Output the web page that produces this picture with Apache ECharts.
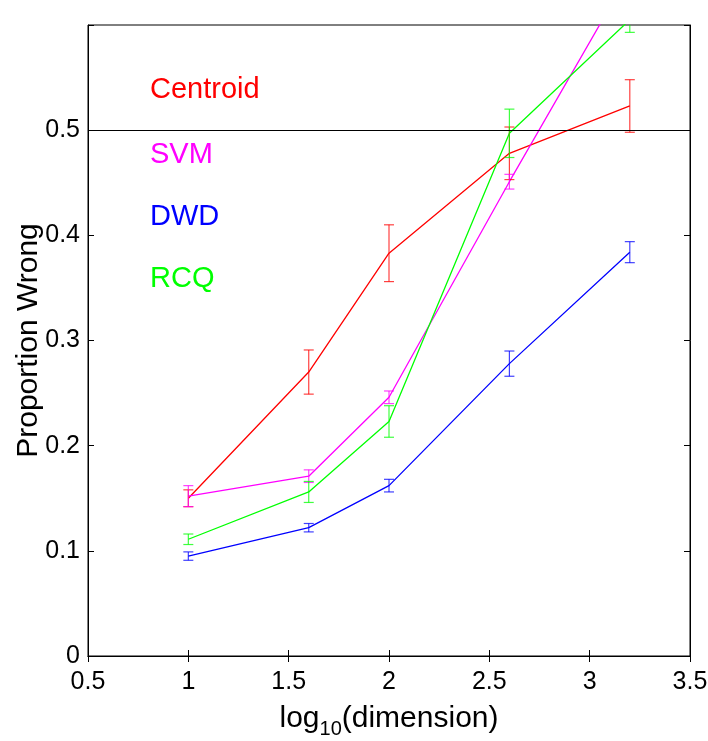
<!DOCTYPE html>
<html>
<head>
<meta charset="utf-8">
<script src="https://cdn.jsdelivr.net/npm/echarts@6/dist/echarts.min.js"></script>
<style>
  html, body { margin: 0; padding: 0; background: #fff; }
  #chart { width: 708px; height: 741px; }
</style>
</head>
<body>
<div id="chart"></div>
<script>
// log10(dimension)
const dims = [1, 1.6, 2, 2.6, 3.2]

// proportion wrong, with error bar half-widths
const centroid = [0.150, 0.270, 0.383, 0.478, 0.523]
const centroidErr = [0.008, 0.021, 0.027, 0.025, 0.025]
const svm = [0.152, 0.171, 0.246, 0.451, 0.650]
const svmErr = [0.010, 0.006, 0.006, 0.007, 0.010]
const dwd = [0.095, 0.122, 0.162, 0.278, 0.384]
const dwdErr = [0.004, 0.004, 0.006, 0.012, 0.010]
const rcq = [0.111, 0.156, 0.223, 0.497, 0.605]
const rcqErr = [0.005, 0.010, 0.015, 0.023, 0.012]

const methods = [
  { name: 'Centroid', color: '#ff0000', vals: centroid, err: centroidErr },
  { name: 'SVM', color: '#ff00ff', vals: svm, err: svmErr },
  { name: 'DWD', color: '#0000ff', vals: dwd, err: dwdErr },
  { name: 'RCQ', color: '#00ff00', vals: rcq, err: rcqErr }
]

const font = '"Liberation Sans", Arial, sans-serif'

const chart = echarts.init(document.getElementById('chart'))

const series = []
methods.forEach(m => {
  series.push({
    name: m.name,
    type: 'line',
    data: dims.map((d, i) => [d, m.vals[i]]),
    showSymbol: false,
    lineStyle: { color: m.color, width: 1.3 },
    itemStyle: { color: m.color },
    clip: true,
    z: 3
  })
  // error bars
  series.push({
    name: m.name + ' err',
    type: 'custom',
    clip: true,
    z: 4,
    data: dims.map((d, i) => [d, m.vals[i] - m.err[i], m.vals[i] + m.err[i]]),
    renderItem: (params, api) => {
      const lo = api.coord([api.value(0), api.value(1)])
      const hi = api.coord([api.value(0), api.value(2)])
      const w = 5
      const style = { stroke: m.color, lineWidth: 1.2, opacity: 0.75 }
      return {
        type: 'group',
        children: [
          { type: 'line', shape: { x1: lo[0], y1: lo[1], x2: hi[0], y2: hi[1] }, style },
          { type: 'line', shape: { x1: lo[0] - w, y1: lo[1], x2: lo[0] + w, y2: lo[1] }, style },
          { type: 'line', shape: { x1: hi[0] - w, y1: hi[1], x2: hi[0] + w, y2: hi[1] }, style }
        ]
      }
    }
  })
})

// reference line at 0.5
series.push({
  name: 'ref',
  type: 'line',
  data: [],
  markLine: {
    silent: true,
    symbol: 'none',
    label: { show: false },
    lineStyle: { color: '#000', width: 1, type: 'solid' },
    data: [{ yAxis: 0.5 }]
  }
})

const labelTop = [90, 155, 217, 279]

chart.setOption({
  animation: false,
  grid: {
    left: 88, right: 18, top: 25, bottom: 85,
    outerBoundsMode: 'none',
    show: true, borderColor: '#000', borderWidth: 1
  },
  xAxis: [{
    type: 'value',
    min: 0.5,
    max: 3.5,
    interval: 0.5,
    name: 'log{sub|10}(dimension)',
    nameLocation: 'middle',
    nameGap: 43,
    nameTextStyle: {
      fontFamily: font, fontSize: 30, color: '#000',
      rich: { sub: { fontFamily: font, fontSize: 20, color: '#000', padding: [20, 0, 0, 0] } }
    },
    axisLine: { lineStyle: { color: '#000', width: 1 } },
    axisTick: { inside: true, length: 6, lineStyle: { color: '#000' } },
    axisLabel: { fontFamily: font, fontSize: 25, color: '#000', margin: 14 },
    splitLine: { show: false }
  }, {
    type: 'value',
    position: 'top',
    min: 0.5,
    max: 3.5,
    interval: 0.5,
    axisLine: { lineStyle: { color: '#000', width: 1 } },
    axisTick: { inside: true, length: 6, lineStyle: { color: '#000' } },
    axisLabel: { show: false },
    splitLine: { show: false }
  }],
  yAxis: [{
    type: 'value',
    min: 0,
    max: 0.6,
    interval: 0.1,
    name: 'Proportion Wrong',
    nameLocation: 'middle',
    nameRotate: 90,
    nameGap: 44,
    nameMoveOverlap: false,
    nameTextStyle: { fontFamily: font, fontSize: 30, color: '#000' },
    axisLine: { lineStyle: { color: '#000', width: 1 } },
    axisTick: { inside: true, length: 6, lineStyle: { color: '#000' } },
    axisLabel: {
      fontFamily: font, fontSize: 25, color: '#000', margin: 8,
      formatter: v => (v > 0.55 ? '' : String(Math.round(v * 10) / 10))
    },
    splitLine: { show: false }
  }, {
    type: 'value',
    position: 'right',
    min: 0,
    max: 0.6,
    interval: 0.1,
    axisLine: { lineStyle: { color: '#000', width: 1 } },
    axisTick: { inside: true, length: 6, lineStyle: { color: '#000' } },
    axisLabel: { show: false },
    splitLine: { show: false }
  }],
  graphic: methods.map((m, i) => ({
    type: 'text',
    left: 150,
    top: labelTop[i] - 15,
    style: { text: m.name, fill: m.color, font: '29px ' + font }
  })),
  series
})
</script>
</body>
</html>
